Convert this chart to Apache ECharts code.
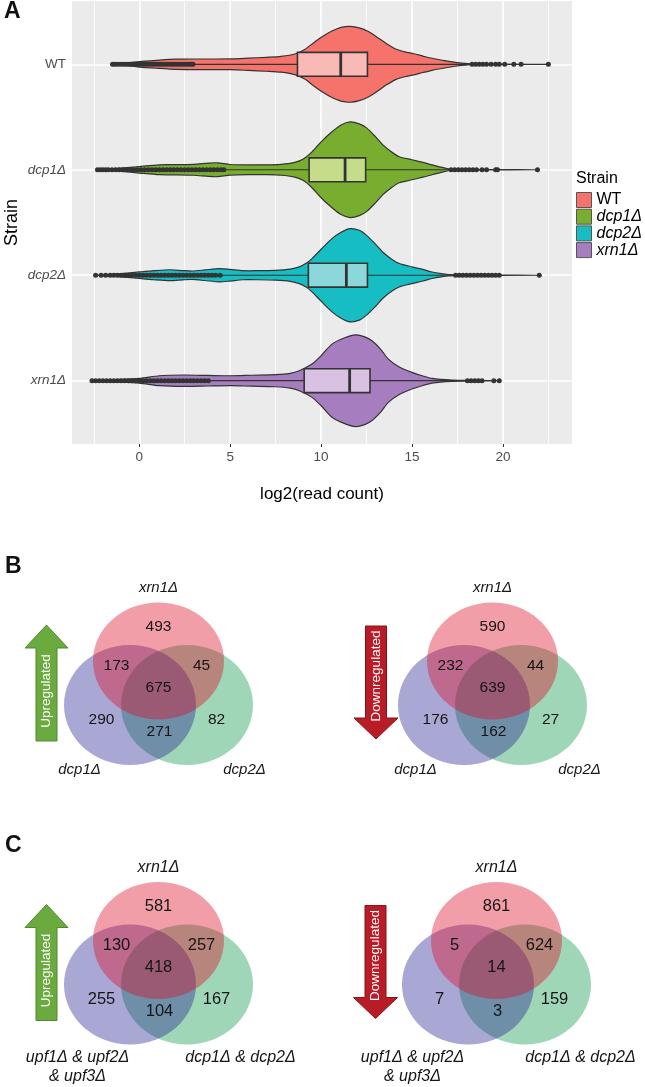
<!DOCTYPE html>
<html><head><meta charset="utf-8">
<script src="https://cdn.jsdelivr.net/npm/echarts@6/dist/echarts.min.js"></script>
<style>html,body{margin:0;padding:0;background:#fff}#c{width:645px;height:1087px}</style>
</head><body><div id="c"></div>
<script>
// ---------------- DATA ----------------
const strains = ['WT', 'dcp1Δ', 'dcp2Δ', 'xrn1Δ'];
const xTicks = [0, 5, 10, 15, 20];
const xMinorLines = [-2.5, 2.5, 7.5, 12.5, 17.5, 22.5];

// violin profiles: [log2(read count), half-width as fraction of the category band]
const violinWT = [[-1.47,0],[-1.2,0.006],[-0.5,0.015],[0,0.026],[1,0.038],[2,0.048],[3,0.05],[4,0.05],[5,0.051],[6,0.058],[7,0.066],[7.8,0.075],[8.6,0.1],[9.1,0.14],[9.6,0.205],[10.1,0.265],[10.6,0.315],[11.1,0.35],[11.6,0.36],[12.1,0.345],[12.6,0.31],[13.1,0.255],[13.6,0.195],[14.1,0.145],[14.6,0.118],[15.1,0.1],[15.6,0.078],[16.1,0.057],[16.8,0.035],[17.5,0.016],[18.2,0.004],[19.5,0.001],[22.5,0]];
const violinDcp1 = [[-2.35,0],[-1.8,0.006],[-1,0.015],[0,0.031],[1.1,0.047],[2,0.048],[3,0.052],[3.8,0.063],[4.3,0.066],[5,0.05],[6,0.046],[7,0.047],[7.8,0.052],[8.5,0.068],[9.0,0.1],[9.5,0.17],[10.0,0.265],[10.6,0.36],[11.1,0.425],[11.6,0.454],[12.1,0.435],[12.5,0.397],[13.0,0.312],[13.4,0.236],[13.9,0.165],[14.3,0.123],[15,0.095],[15.6,0.07],[16.1,0.047],[16.6,0.025],[17,0.0095],[17.6,0.003],[19,0.001],[21.9,0]];
const violinDcp2 = [[-2.4,0],[-1.8,0.006],[-1,0.015],[0,0.031],[0.8,0.043],[1.7,0.052],[2.4,0.044],[2.9,0.04],[3.6,0.05],[4.4,0.063],[5,0.055],[5.7,0.043],[6.5,0.043],[7.5,0.047],[8.3,0.058],[8.8,0.079],[9.2,0.115],[9.5,0.158],[10.0,0.246],[10.6,0.347],[11.1,0.407],[11.6,0.442],[12.1,0.426],[12.5,0.378],[13.0,0.293],[13.4,0.218],[13.9,0.15],[14.3,0.111],[15,0.079],[15.6,0.055],[16.1,0.031],[16.6,0.015],[17,0.007],[18,0.002],[22.0,0]];
const violinXrn1 = [[-2.6,0],[-2.0,0.006],[-1.5,0.011],[0,0.022],[1.1,0.047],[2.5,0.054],[3.8,0.05],[5,0.047],[6.2,0.052],[7.5,0.057],[8.3,0.07],[8.8,0.095],[9.5,0.158],[10.0,0.237],[10.6,0.347],[11.3,0.407],[11.9,0.435],[12.4,0.416],[12.8,0.378],[13.3,0.293],[13.7,0.205],[14.3,0.13],[15,0.079],[15.6,0.045],[16.1,0.022],[17.2,0.0066],[18.5,0.002],[19.9,0]];

// box stats: [lower whisker, Q1, median, Q3, upper whisker]
const boxWT   = [3.0, 8.7, 11.08, 12.55, 18.2];
const boxDcp1 = [4.7, 9.34, 11.32, 12.45, 17.1];
const boxDcp2 = [4.5, 9.3, 11.39, 12.55, 17.3];
const boxXrn1 = [3.8, 9.07, 11.57, 12.69, 18.0];

// outliers (log2 read count)
const outWT = [-1.47,-1.35,-1.2,-1.05,-0.9,-0.75,-0.6,-0.45,-0.3,-0.15,0,0.15,0.3,0.45,0.6,0.75,0.9,1.05,1.2,1.35,1.5,1.65,1.8,1.95,2.1,2.25,2.4,2.55,2.7,2.85,2.95,18.3,18.5,18.7,18.9,19.1,19.35,19.6,19.8,20.1,20.6,21.0,22.5];
const outDcp1 = [-2.3,-2.15,-2.0,-1.85,-1.7,-1.5,-1.3,-1.1,-0.9,-0.7,-0.5,-0.3,-0.1,0.1,0.3,0.5,0.7,0.9,1.1,1.3,1.5,1.7,1.9,2.1,2.3,2.5,2.7,2.9,3.1,3.3,3.5,3.7,3.9,4.1,4.3,4.5,4.65,17.15,17.35,17.55,17.75,17.95,18.15,18.35,18.55,18.85,19.1,19.6,19.7,21.9];
const outDcp2 = [-2.4,-2.1,-1.85,-1.6,-1.4,-1.2,-1.0,-0.8,-0.6,-0.4,-0.2,0,0.2,0.4,0.6,0.8,1.0,1.2,1.4,1.6,1.8,2.0,2.2,2.4,2.6,2.8,3.0,3.2,3.4,3.6,3.8,4.0,4.2,4.45,17.4,17.6,17.8,18.0,18.2,18.4,18.6,18.8,19.0,19.2,19.4,19.6,19.8,22.0];
const outXrn1 = [-2.6,-2.4,-2.2,-2.0,-1.8,-1.6,-1.4,-1.2,-1.0,-0.8,-0.6,-0.4,-0.2,0,0.2,0.4,0.6,0.8,1.0,1.2,1.4,1.6,1.8,2.0,2.2,2.4,2.6,2.8,3.0,3.2,3.4,3.6,3.8,18.05,18.25,18.45,18.65,18.85,19.5,19.8];

// Venn counts, region order: set1 only, set1&set2, set1&set3, all, set2 only, set3 only, set2&set3
const vennSetsB = ['xrn1Δ', 'dcp1Δ', 'dcp2Δ'];
const vennSetsC = ['xrn1Δ', 'upf1Δ & upf2Δ\n& upf3Δ', 'dcp1Δ & dcp2Δ'];
const countsBUp   = [493, 173, 45, 675, 290, 82, 271];
const countsBDown = [590, 232, 44, 639, 176, 27, 162];
const countsCUp   = [581, 130, 257, 418, 255, 167, 104];
const countsCDown = [861, 5, 624, 14, 7, 159, 3];
const arrowLabels = {up: 'Upregulated', down: 'Downregulated'};

// ---------------- STYLE / LAYOUT ----------------
const FONT = '"Liberation Sans", Arial, Helvetica, sans-serif';
const violinFill = ['#F5736B', '#79AD2F', '#16BEC3', '#A67DBE'];
const boxFill = ['#F9B9B4', '#C5DD8B', '#8CD7DA', '#D8C1E2'];
const violins = [violinWT, violinDcp1, violinDcp2, violinXrn1];
const boxes = [boxWT, boxDcp1, boxDcp2, boxXrn1];
const outs = [outWT, outDcp1, outDcp2, outXrn1];

const VENN_FILL = ['rgba(222,12,38,0.4)', 'rgba(40,35,145,0.4)', 'rgba(14,152,78,0.4)'];
const VENN_CIRCLES = [{c: [0, 0], r: [65.5, 58.5]}, {c: [-28.5, 44], r: [66, 60]}, {c: [28.5, 44], r: [66, 60]}];
const VENN_DRAW_ORDER = [2, 1, 0];
const VENN_REGION_POS = [[0, -34], [-42, 5], [43, 5], [0, 27], [-57, 59], [58, 59], [1, 71]];

const vennDefs = [
  {center: [158.5, 661], counts: countsBUp, sets: vennSetsB, dir: 'up', numSize: 15.5, labSize: 15, labPos: [[0, -73], [-79, 108.5], [86, 108.5]], arrowX: -112},
  {center: [492.5, 661], counts: countsBDown, sets: vennSetsB, dir: 'down', numSize: 15.5, labSize: 15, labPos: [[0, -73], [-77, 108.5], [87, 108.5]], arrowX: -116.5},
  {center: [158.5, 940.5], counts: countsCUp, sets: vennSetsC, dir: 'up', numSize: 16.5, labSize: 16, labPos: [[0, -73], [-81, 117.5], [82, 117.5]], arrowX: -112},
  {center: [496.5, 940.5], counts: countsCDown, sets: vennSetsC, dir: 'down', numSize: 16.5, labSize: 16, labPos: [[0, -73], [-84, 117.5], [84, 117.5]], arrowX: -121}
];

// ---------------- BUILD ----------------
const grids = [{left: 72, top: 1, width: 500, height: 443, show: true, backgroundColor: '#EBEBEB', borderWidth: 0, outerBoundsMode: 'none'}];
const xAxes = [
  {gridIndex: 0, type: 'value', min: -3.7, max: 23.8,
   axisLine: {show: false},
   axisTick: {show: true, length: 3, customValues: xTicks, lineStyle: {color: '#333', width: 1}},
   axisLabel: {customValues: xTicks, margin: 6, color: '#4D4D4D', fontSize: 13.5, fontFamily: FONT},
   splitLine: {show: true, lineStyle: {color: '#FFFFFF', width: 1.6}},
   name: 'log2(read count)', nameLocation: 'middle', nameGap: 42,
   nameTextStyle: {color: '#000', fontSize: 17, fontFamily: FONT}},
  {gridIndex: 0, type: 'value', min: -3.7, max: 23.8, position: 'top',
   axisLine: {show: false}, axisTick: {show: false, customValues: xMinorLines}, axisLabel: {show: false},
   splitLine: {show: true, lineStyle: {color: '#FFFFFF', width: 0.8}}}
];
const yAxes = [
  {gridIndex: 0, type: 'value', inverse: true, min: 0.4, max: 4.6,
   axisLine: {show: false},
   axisTick: {show: true, length: 3, customValues: [1, 2, 3, 4], lineStyle: {color: '#333', width: 1}},
   axisLabel: {customValues: [1, 2, 3, 4], margin: 6,
     formatter: v => { const n = strains[Math.round(v) - 1]; return n === 'WT' ? '{n|' + n + '}' : '{i|' + n + '}'; },
     rich: {n: {color: '#4D4D4D', fontSize: 13.5, fontFamily: FONT}, i: {color: '#4D4D4D', fontSize: 13.5, fontFamily: FONT, fontStyle: 'italic'}}},
   splitLine: {show: true, lineStyle: {color: '#FFFFFF', width: 1.6}},
   name: 'Strain', nameLocation: 'middle', nameGap: 51, nameRotate: 90, nameMoveOverlap: false,
   nameTextStyle: {color: '#000', fontSize: 18, fontFamily: FONT}}
];

const series = [];
// violins
violins.forEach((prof, k) => {
  series.push({
    type: 'custom', name: strains[k], xAxisIndex: 0, yAxisIndex: 0, z: 2, silent: true,
    itemStyle: {color: violinFill[k], borderColor: '#333', borderWidth: 1},
    data: [[0, k + 1]],
    renderItem(params, api) {
      const yv = api.value(1);
      const band = api.size([0, 1])[1];
      const top = prof.map(p => { const c = api.coord([p[0], yv]); return [c[0], c[1] - p[1] * band]; });
      const bot = prof.slice(1, -1).reverse().map(p => { const c = api.coord([p[0], yv]); return [c[0], c[1] + p[1] * band]; });
      return {type: 'polygon', z2: 1, shape: {points: top.concat(bot), smooth: 0.25},
              style: {fill: violinFill[k], stroke: '#333', lineWidth: 1.2}};
    }
  });
});
// boxes
series.push({
  type: 'custom', name: 'box', xAxisIndex: 0, yAxisIndex: 0, z: 3, silent: true,
  data: boxes.map((b, k) => [k + 1].concat(b)),
  renderItem(params, api) {
    const yv = api.value(0);
    const k = params.dataIndex;
    const lo = api.coord([api.value(1), yv]), q1 = api.coord([api.value(2), yv]), md = api.coord([api.value(3), yv]),
          q3 = api.coord([api.value(4), yv]), hi = api.coord([api.value(5), yv]);
    const hh = api.size([0, 1])[1] * 0.113;
    const ls = {stroke: '#333', lineWidth: 1.2};
    return {type: 'group', children: [
      {type: 'line', shape: {x1: lo[0], y1: lo[1], x2: q1[0], y2: q1[1]}, style: ls},
      {type: 'line', shape: {x1: q3[0], y1: q3[1], x2: hi[0], y2: hi[1]}, style: ls},
      {type: 'rect', shape: {x: q1[0], y: q1[1] - hh, width: q3[0] - q1[0], height: 2 * hh}, style: {fill: boxFill[k], stroke: '#333', lineWidth: 1.6}},
      {type: 'line', shape: {x1: md[0], y1: md[1] - hh, x2: md[0], y2: md[1] + hh}, style: {stroke: '#333', lineWidth: 2.8}}
    ]};
  }
});
// outliers
outs.forEach((arr, k) => {
  series.push({type: 'scatter', name: strains[k] + ' outliers', xAxisIndex: 0, yAxisIndex: 0, z: 10, silent: true,
    symbol: 'circle', symbolSize: 5, itemStyle: {color: '#333', opacity: 1},
    data: arr.map(v => [v, k + 1])});
});

// venn diagrams
vennDefs.forEach((d, vi) => {
  const g = grids.length;
  const xi = xAxes.length, yi = yAxes.length;
  grids.push({left: d.center[0] - 150, top: d.center[1] - 100, width: 300, height: 250, show: false, outerBoundsMode: 'none'});
  xAxes.push({gridIndex: g, type: 'value', min: -150, max: 150, show: false});
  yAxes.push({gridIndex: g, type: 'value', min: -100, max: 150, inverse: true, show: false});
  const base = {type: 'custom', coordinateSystem: 'cartesian2d', xAxisIndex: xi, yAxisIndex: yi, silent: true};
  series.push(Object.assign({}, base, {name: 'venn' + g, z: 2, data: VENN_DRAW_ORDER.map(i => [i, 0]),
    renderItem(params, api) {
      const i = api.value(0); const c = VENN_CIRCLES[i];
      const pt = api.coord(c.c); const sz = api.size(c.r);
      return {type: 'ellipse', shape: {cx: pt[0], cy: pt[1], rx: sz[0], ry: sz[1]}, style: {fill: VENN_FILL[i]}};
    }}));
  series.push(Object.assign({}, base, {name: 'counts' + g, z: 3, data: d.counts.map((v, i) => [i, v]),
    renderItem(params, api) {
      const pt = api.coord(VENN_REGION_POS[api.value(0)]);
      return {type: 'text', x: pt[0], y: pt[1], style: {text: String(api.value(1)), fill: '#151515', fontSize: d.numSize, fontFamily: FONT, align: 'center', verticalAlign: 'middle'}};
    }}));
  series.push(Object.assign({}, base, {name: 'sets' + g, z: 3, data: d.sets.map((s, i) => [i, 0]),
    renderItem(params, api) {
      const i = api.value(0);
      const pt = api.coord(d.labPos[i]);
      const txt = d.sets[i];
      const multi = txt.indexOf('\n') >= 0;
      return {type: 'text', x: pt[0], y: multi ? pt[1] - 9.5 : pt[1], style: {text: txt, fill: '#151515', fontSize: d.labSize, fontFamily: FONT, fontStyle: 'italic', align: 'center', verticalAlign: multi ? 'top' : 'middle', lineHeight: 19}};
    }}));
  series.push(Object.assign({}, base, {name: 'arrow' + g, z: 3, data: [[0, 0]],
    renderItem(params, api) {
      const xc = d.arrowX;
      let rel, textY, fill, stroke;
      if (d.dir === 'up') {
        const tip = -36, hb = -13, bot = 80;
        rel = [[xc, tip], [xc + 21.5, hb], [xc + 10.5, hb], [xc + 10.5, bot], [xc - 10.5, bot], [xc - 10.5, hb], [xc - 21.5, hb]];
        textY = 30; fill = '#6AAA3E'; stroke = '#4F8A2D';
      } else {
        const topY = -35, hb = 57, tip = 78;
        rel = [[xc - 10.5, topY], [xc + 10.5, topY], [xc + 10.5, hb], [xc + 22, hb], [xc, tip], [xc - 22, hb], [xc - 10.5, hb]];
        textY = 15; fill = '#B71C27'; stroke = '#8C1119';
      }
      const pts = rel.map(p => api.coord(p));
      const tc = api.coord([xc, textY]);
      return {type: 'group', children: [
        {type: 'polygon', shape: {points: pts}, style: {fill: fill, stroke: stroke, lineWidth: 1}},
        {type: 'text', x: tc[0], y: tc[1], rotation: Math.PI / 2, style: {text: arrowLabels[d.dir], fill: '#FFFFFF', fontSize: 13.5, fontFamily: FONT, align: 'center', verticalAlign: 'middle'}}
      ]};
    }}));
});

const option = {
  animation: false,
  backgroundColor: '#FFFFFF',
  title: [
    {text: 'A', left: 4, top: 0, padding: 0, textStyle: {fontSize: 23, fontWeight: 'bold', color: '#111', fontFamily: FONT}},
    {text: 'B', left: 5, top: 555, padding: 0, textStyle: {fontSize: 23, fontWeight: 'bold', color: '#111', fontFamily: FONT}},
    {text: 'C', left: 5, top: 834, padding: 0, textStyle: {fontSize: 23, fontWeight: 'bold', color: '#111', fontFamily: FONT}},
    {text: 'Strain', left: 576, top: 171, padding: 0, textStyle: {fontSize: 16, fontWeight: 'normal', color: '#000', fontFamily: FONT}}
  ],
  legend: {
    orient: 'vertical', left: 576, top: 192, padding: 0, itemWidth: 15, itemHeight: 15, itemGap: 0.7,
    icon: 'rect', selectedMode: false, data: strains,
    itemStyle: {borderColor: '#555', borderWidth: 1},
    formatter: n => n === 'WT' ? '{n|' + n + '}' : '{i|' + n + '}',
    textStyle: {fontSize: 16, color: '#000', fontFamily: FONT, lineHeight: 15,
      rich: {n: {fontSize: 16, fontFamily: FONT, lineHeight: 15, color: '#000'}, i: {fontSize: 16, fontFamily: FONT, lineHeight: 15, fontStyle: 'italic', color: '#000'}}}
  },
  grid: grids,
  xAxis: xAxes,
  yAxis: yAxes,
  series: series
};

const chart = echarts.init(document.getElementById('c'), null, {renderer: 'canvas', width: 645, height: 1087});
chart.setOption(option);
</script>
</body></html>
